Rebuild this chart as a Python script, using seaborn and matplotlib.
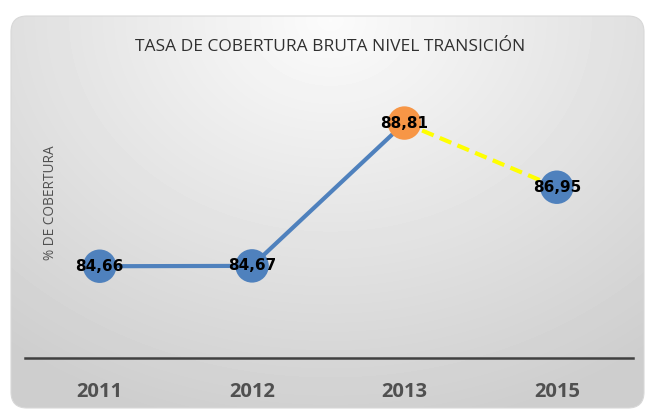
import numpy as np
import pandas as pd
import matplotlib
matplotlib.use("Agg")
import matplotlib.pyplot as plt
import seaborn as sns
from matplotlib.patches import FancyBboxPatch

years = ["2011", "2012", "2013", "2015"]
values = [84.66, 84.67, 88.81, 86.95]
labels = ["84,66", "84,67", "88,81", "86,95"]
point_colors = ["#4F81BD", "#4F81BD", "#F79646", "#4F81BD"]

sns.set_style("white")
plt.rcParams["font.family"] = ["Open Sans", "DejaVu Sans"]

W, H = 652, 416
fig = plt.figure(figsize=(W / 100, H / 100), dpi=100)
fig.patch.set_facecolor("white")

# background panel: soft grey gradient with rounded corners
bg = fig.add_axes([0, 0, 1, 1])
bg.set_xlim(0, W)
bg.set_ylim(H, 0)
bg.axis("off")
yy, xx = np.mgrid[0:H, 0:W]
d = np.sqrt(((xx - 330) / 520.0) ** 2 + ((yy - 20) / 420.0) ** 2)
shade = 0.985 - 0.18 * np.clip(d, 0, 1)
img = bg.imshow(shade, cmap="gray", vmin=0, vmax=1, extent=(0, W, H, 0), aspect="auto")
panel = FancyBboxPatch((11, 16), 633, 392, boxstyle="round,pad=0,rounding_size=16",
                       transform=bg.transData, facecolor="none", edgecolor="#d8d8d8", lw=0.8)
bg.add_patch(panel)
img.set_clip_path(panel)

df = pd.DataFrame({"x": range(len(years)), "value": values})

ax = fig.add_axes([25 / W, 58 / H, 608 / W, 276 / H])
ax.patch.set_alpha(0)
sns.lineplot(data=df.iloc[:3], x="x", y="value", color="#4F81BD", lw=3.0, ax=ax)
sns.lineplot(data=df.iloc[2:], x="x", y="value", color="#FFFF00", lw=3.0,
             ax=ax, linestyle=(0, (3, 1.6)))
sns.scatterplot(data=df, x="x", y="value", hue="x", palette=point_colors, s=580,
                edgecolor="none", legend=False, ax=ax, zorder=3)
for i, (v, t) in enumerate(zip(values, labels)):
    ax.text(i, v, t, ha="center", va="center", fontsize=11, fontweight="bold",
            family="DejaVu Sans", color="black", zorder=4)

ax.set_xlim(-0.49, 3.5)
ax.set_ylim(82.0, 90.0)
ax.set_xticks(range(len(years)))
ax.set_xticklabels(years, fontsize=14.5, fontweight="bold", color="#505050")
ax.tick_params(axis="x", length=0, pad=17)
ax.set_yticks([])
ax.set_xlabel("")
ax.set_ylabel("")
for s in ["top", "right", "left"]:
    ax.spines[s].set_visible(False)
ax.spines["bottom"].set_color("#404040")
ax.spines["bottom"].set_linewidth(1.8)

fig.text(330 / W, 1 - 47 / H, "TASA DE COBERTURA BRUTA NIVEL TRANSICIÓN",
         ha="center", va="center", fontsize=12.5, color="#303030")
fig.text(51 / W, 1 - 203 / H, "% DE COBERTURA", rotation=90, ha="center",
         va="center", fontsize=9.8, color="#505050")

fig.savefig("out.png", dpi=100)
